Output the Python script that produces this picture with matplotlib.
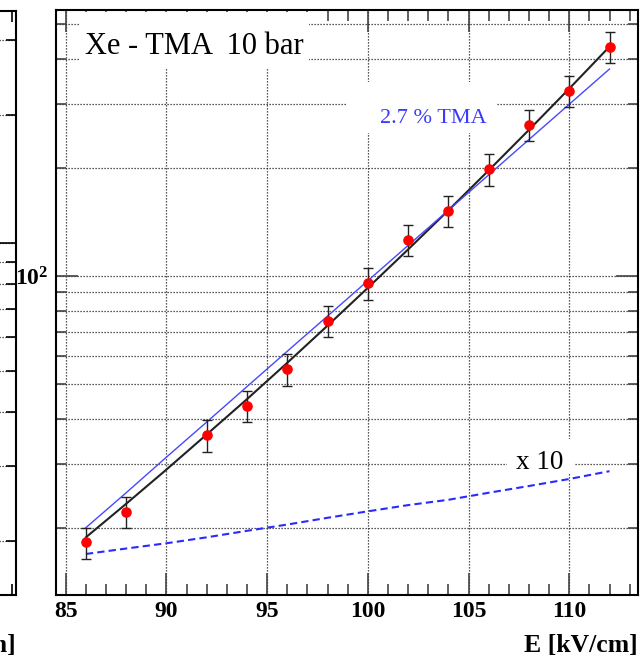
import numpy as np
import matplotlib
matplotlib.use("Agg")
import matplotlib.pyplot as plt
from matplotlib.ticker import LogLocator, NullFormatter, FixedLocator, FixedFormatter
from matplotlib.patches import Rectangle

# Times-like fonts, like the ROOT original
plt.rcParams['font.family'] = ['Liberation Serif', 'DejaVu Serif']
plt.rcParams['mathtext.fontset'] = 'custom'
plt.rcParams['mathtext.rm'] = 'Liberation Serif'
plt.rcParams['mathtext.bf'] = 'Liberation Serif:bold'

# measured points: field [kV/cm], gain, error
e_field = np.array([86, 88, 92, 94, 96, 98, 100, 102, 104, 106, 108, 110, 112])
gain = np.array([18.2, 22.1, 36.1, 43.6, 55.1, 75.1, 95.6, 125.9, 151.8, 197.9, 262.7, 327.0, 433.6])
gain_err = np.array([1.8, 2.2, 3.7, 4.4, 5.5, 7.5, 9.6, 12.6, 15.2, 19.8, 26.3, 32.7, 43.4])

# curves
curve_x = np.array([86, 88, 90, 92, 94, 96, 98, 100, 102, 104, 106, 108, 110, 112])
fit_black = np.array([18.8, 23.3, 29.0, 36.3, 45.5, 57.4, 72.8, 92.7, 118.5, 152.2, 196.5, 254.6, 331.4, 433.5])
tma_blue = np.array([20.0, 25.0, 31.4, 39.3, 49.3, 61.8, 77.4, 97.0, 121.6, 152.3, 190.9, 239.3, 299.9, 375.7])
tma_blue_x10 = np.array([16.9, 17.5, 18.1, 18.8, 19.6, 20.4, 21.3, 22.2, 23.1, 23.9, 25.0, 26.1, 27.3, 28.7])

x_ticks = [85, 90, 95, 100, 105, 110]

W, H = 642, 659
fig = plt.figure(figsize=(W / 100, H / 100), dpi=100)

def px_box(l, t, r, b):
    return [l / W, (H - b) / H, (r - l) / W, (b - t) / H]

grid_kw = dict(color='#222222', linestyle=(0, (1, 1.4)), linewidth=0.9)

# ---- left neighbour panel (only its right edge is inside the picture)
axl = fig.add_axes(px_box(-300, 11, 15.7, 595))
axl.set_yscale('log')
axl.set_ylim(14.9, 350.5)
axl.set_xlim(0, 1)
axl.yaxis.set_major_locator(FixedLocator([100]))
axl.yaxis.set_minor_locator(LogLocator(base=10, subs=np.arange(2, 10)))
axl.yaxis.set_major_formatter(NullFormatter())
axl.yaxis.set_minor_formatter(NullFormatter())
axl.set_xticks([])
axl.set_xticks([0.989], minor=True)
axl.xaxis.set_minor_formatter(NullFormatter())
axl.grid(True, which='both', axis='y', **grid_kw)
axl.tick_params(axis='y', which='both', direction='in', left=False, right=True, width=1.2)
axl.tick_params(axis='y', which='major', length=14)
axl.tick_params(axis='y', which='minor', length=7)
axl.tick_params(axis='x', which='minor', direction='in', top=True, bottom=True, length=8, width=1.2)
for s in axl.spines.values():
    s.set_linewidth(1.5)
axl.text(1.0, -0.097, 'E [kV/cm]', transform=axl.transAxes, ha='right', va='baseline',
         fontsize=18.5, fontweight='bold')

# ---- main panel
ax = fig.add_axes(px_box(55.7, 10, 637.7, 595))
ax.set_yscale('log')
ax.set_xlim(84.5, 113.4)
ax.set_ylim(13.0, 548)

ax.grid(True, which='major', axis='x', **grid_kw)
ax.grid(True, which='both', axis='y', **grid_kw)
ax.set_axisbelow(True)

ax.plot(curve_x, fit_black, color='#222222', lw=1.5, zorder=3)
ax.plot(curve_x, tma_blue, color='#4848ff', lw=1.0, zorder=3)
ax.plot(curve_x, tma_blue_x10, color='#2a2aff', lw=1.5, linestyle=(0, (3.5, 2)), zorder=3)
ax.errorbar(e_field, gain, yerr=gain_err, fmt='o', color='red', ms=6.6, mec='red',
            ecolor='#222222', elinewidth=1.0, capsize=3.5, capthick=1.0, zorder=4)

ax.set_xticks(x_ticks)
ax.xaxis.set_minor_locator(FixedLocator(np.arange(85, 114, 1)))
ax.yaxis.set_major_locator(FixedLocator([100]))
ax.yaxis.set_major_formatter(FixedFormatter([r'$\mathbf{10^{2}}$']))
ax.yaxis.set_minor_locator(LogLocator(base=10, subs=np.arange(2, 10)))
ax.yaxis.set_minor_formatter(NullFormatter())

ax.tick_params(which='both', direction='in', top=True, right=True, width=1.2, color='#444444')
ax.tick_params(axis='x', which='major', length=16, pad=4)
ax.tick_params(axis='x', which='minor', length=8)
ax.tick_params(axis='y', which='major', length=16, pad=5)
ax.tick_params(axis='y', which='minor', length=7)
for lab in ax.get_xticklabels() + ax.get_yticklabels():
    lab.set_fontsize(17)
    lab.set_fontweight('bold')
for s in ax.spines.values():
    s.set_linewidth(1.5)

ax.text(1.0, -0.097, 'E [kV/cm]', transform=ax.transAxes, ha='right', va='baseline',
        fontsize=18.5, fontweight='bold')

# white boxes behind the labels hide the grid, as in the original
boxes = [(0.0418, 0.9009, 0.393, 0.096), (0.5005, 0.7897, 0.2577, 0.0873), (0.7754, 0.2068, 0.1162, 0.0607)]
for bx, by, bw, bh in boxes:
    ax.add_patch(Rectangle((bx, by), bw, bh, transform=ax.transAxes, facecolor='white',
                           edgecolor='none', zorder=2))

ax.text(0.0503, 0.924, 'Xe - TMA  10 bar', transform=ax.transAxes, fontsize=22,
        va='baseline', ha='left', zorder=5)
ax.text(0.557, 0.8074, '2.7 % TMA', transform=ax.transAxes, fontsize=16,
        color='#3a3aff', va='baseline', ha='left', zorder=5)
ax.text(0.7904, 0.2157, 'x 10', transform=ax.transAxes, fontsize=19.5,
        va='baseline', ha='left', zorder=5)

fig.savefig('out.png', dpi=100)
